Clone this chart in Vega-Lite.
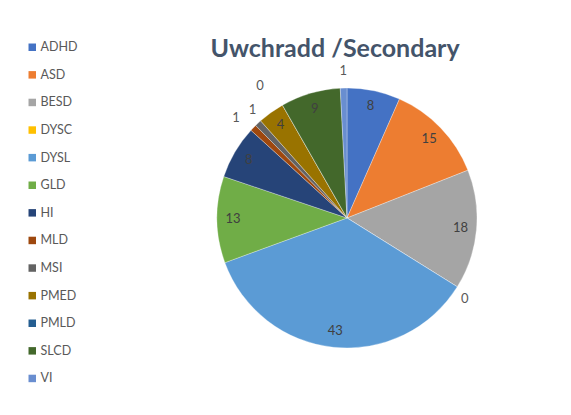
{
  "$schema": "https://vega.github.io/schema/vega-lite/v6.json",
  "width": 260,
  "height": 262,
  "autosize": {"type": "none"},
  "padding": {"left": 217, "top": 87, "right": 94, "bottom": 66},
  "background": "white",
  "title": {
    "text": "Uwchradd /Secondary",
    "font": "Lato",
    "fontSize": 25,
    "fontWeight": "bold",
    "color": "#44546A",
    "anchor": "middle",
    "dx": -12,
    "offset": -21
  },
  "config": {"view": {"stroke": null}},
  "data": {
    "values": [
      {"cat": "ADHD", "n": 8, "idx": 1},
      {"cat": "ASD", "n": 15, "idx": 2},
      {"cat": "BESD", "n": 18, "idx": 3},
      {"cat": "DYSC", "n": 0, "idx": 4},
      {"cat": "DYSL", "n": 43, "idx": 5},
      {"cat": "GLD", "n": 13, "idx": 6},
      {"cat": "HI", "n": 8, "idx": 7},
      {"cat": "MLD", "n": 1, "idx": 8},
      {"cat": "MSI", "n": 1, "idx": 9},
      {"cat": "PMED", "n": 4, "idx": 10},
      {"cat": "PMLD", "n": 0, "idx": 11},
      {"cat": "SLCD", "n": 9, "idx": 12},
      {"cat": "VI", "n": 1, "idx": 13}
    ]
  },
  "encoding": {
    "theta": {"field": "n", "type": "quantitative", "stack": true},
    "order": {"field": "idx", "type": "quantitative"},
    "color": {
      "field": "cat",
      "type": "nominal",
      "sort": null,
      "scale": {
        "domain": ["ADHD", "ASD", "BESD", "DYSC", "DYSL", "GLD", "HI", "MLD", "MSI", "PMED", "PMLD", "SLCD", "VI"],
        "range": ["#4472C4", "#ED7D31", "#A5A5A5", "#FFC000", "#5B9BD5", "#70AD47", "#264478", "#9E480E", "#636363", "#997300", "#255E91", "#43682B", "#698ED0"]
      },
      "legend": {
        "title": null,
        "orient": "none",
        "legendX": -191,
        "legendY": -46,
        "symbolType": "square",
        "symbolSize": 56,
        "symbolStrokeWidth": 0,
        "labelFont": "Lato",
        "labelFontSize": 12.5,
        "labelColor": "#595959",
        "labelOffset": 2,
        "rowPadding": 14.6
      }
    }
  },
  "layer": [
    {"mark": {"type": "arc", "outerRadius": 130, "stroke": "white", "strokeWidth": 0.3}},
    {
      "mark": {"type": "text", "radius": 114, "font": "Lato", "fontSize": 13},
      "encoding": {
        "text": {"field": "n", "type": "quantitative"},
        "color": {"value": "#404040"},
        "opacity": {"condition": {"test": "datum.n < 4", "value": 0}, "value": 1}
      }
    },
    {
      "mark": {"type": "text", "radius": 147, "font": "Lato", "fontSize": 13},
      "encoding": {
        "text": {"field": "n", "type": "quantitative"},
        "color": {"value": "#595959"},
        "opacity": {"condition": {"test": "datum.cat === 'VI'", "value": 1}, "value": 0}
      }
    },
    {
      "mark": {"type": "text", "radius": 147, "font": "Lato", "fontSize": 13, "dx": -7, "dy": 3},
      "encoding": {
        "text": {"field": "n", "type": "quantitative"},
        "color": {"value": "#595959"},
        "opacity": {"condition": {"test": "datum.cat === 'DYSC'", "value": 1}, "value": 0}
      }
    },
    {
      "mark": {"type": "text", "radius": 147, "font": "Lato", "fontSize": 13, "dx": -5, "dy": 2},
      "encoding": {
        "text": {"field": "n", "type": "quantitative"},
        "color": {"value": "#595959"},
        "opacity": {"condition": {"test": "datum.cat === 'MLD'", "value": 1}, "value": 0}
      }
    },
    {
      "mark": {"type": "text", "radius": 147, "font": "Lato", "fontSize": 13, "dx": 6, "dy": -1},
      "encoding": {
        "text": {"field": "n", "type": "quantitative"},
        "color": {"value": "#595959"},
        "opacity": {"condition": {"test": "datum.cat === 'MSI'", "value": 1}, "value": 0}
      }
    },
    {
      "mark": {"type": "text", "radius": 147, "font": "Lato", "fontSize": 13, "dx": -14, "dy": -4},
      "encoding": {
        "text": {"field": "n", "type": "quantitative"},
        "color": {"value": "#595959"},
        "opacity": {"condition": {"test": "datum.cat === 'PMLD'", "value": 1}, "value": 0}
      }
    }
  ]
}
